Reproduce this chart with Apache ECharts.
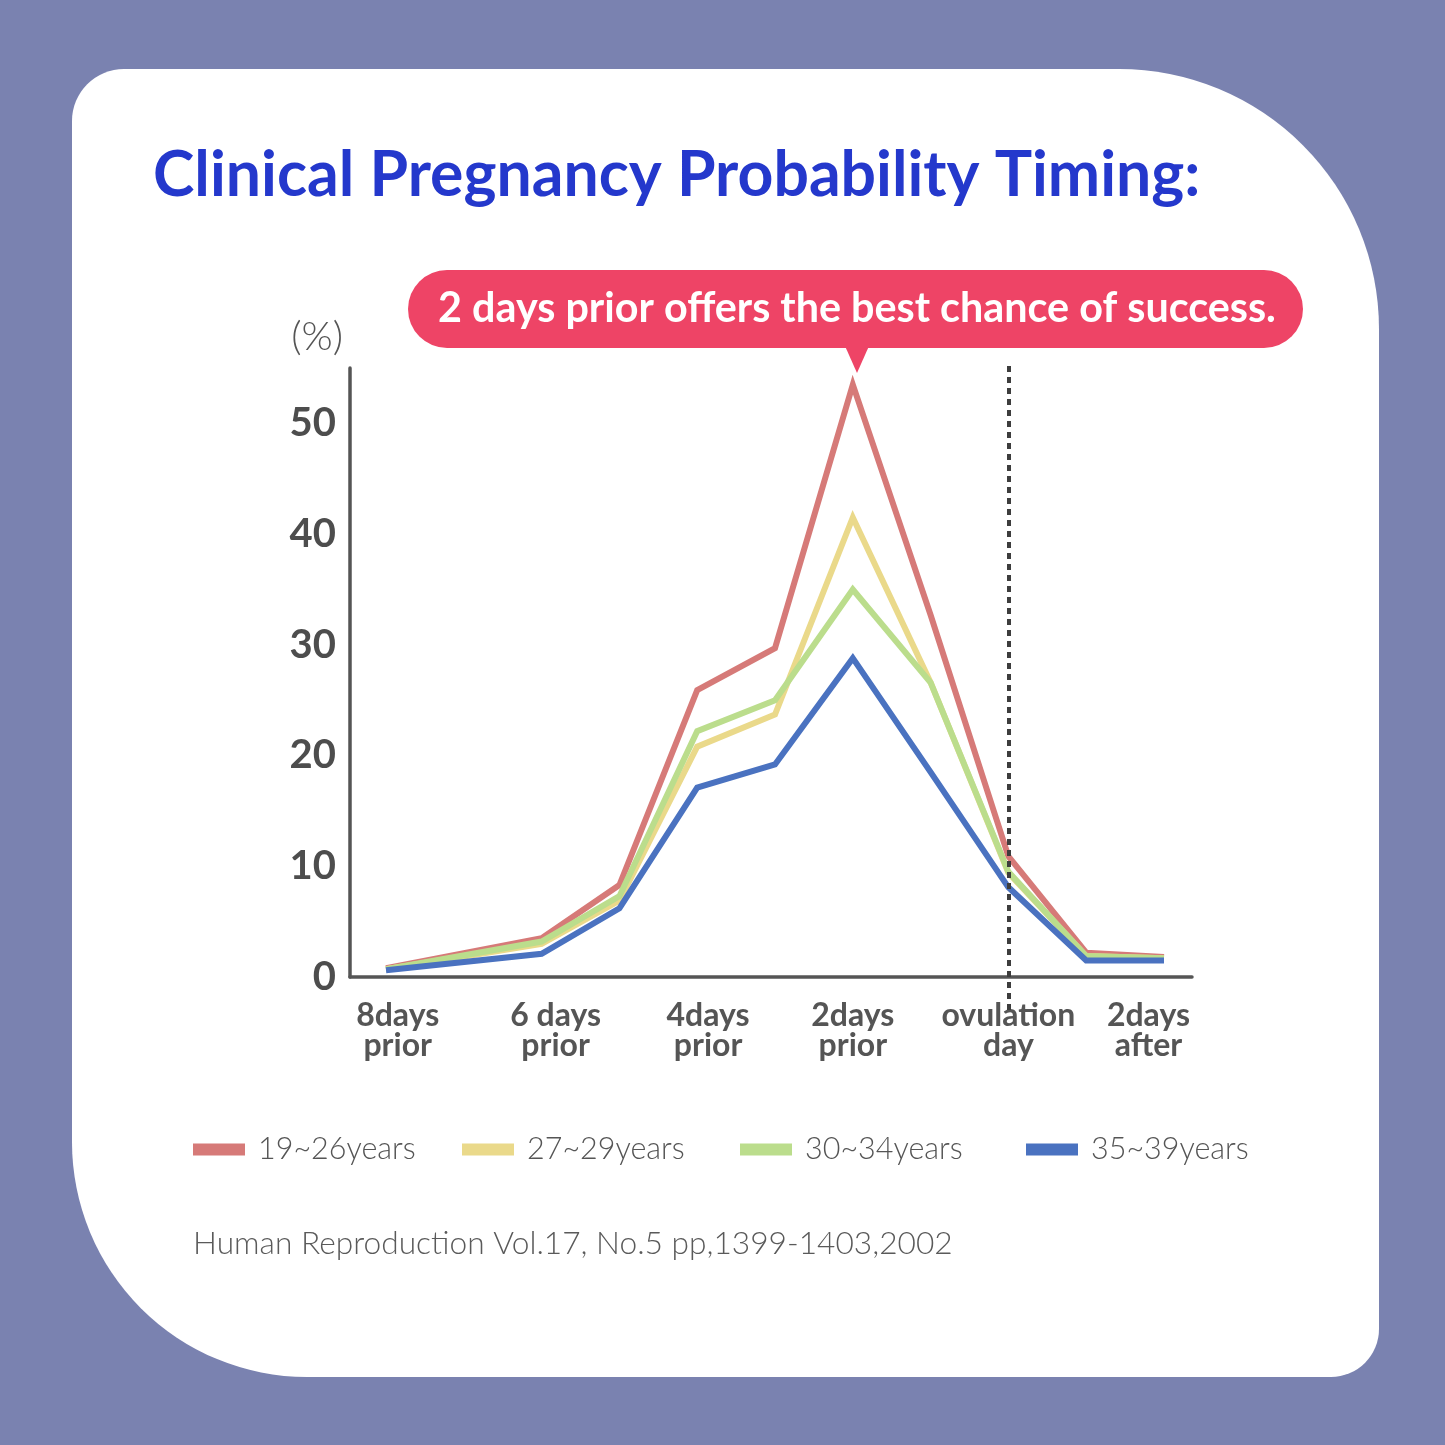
<!DOCTYPE html>
<html><head><meta charset="utf-8">
<script src="https://cdn.jsdelivr.net/npm/echarts@6/dist/echarts.min.js"></script>
<style>html,body{margin:0;padding:0;background:#7a82b0;}#c{width:1445px;height:1445px;}</style>
</head><body><div id="c"></div>
<script>
// ---- data ----
const days = [-8, -6, -5, -4, -3, -2, -1, 0, 1, 2];
const seriesNames = ['19~26years', '27~29years', '30~34years', '35~39years'];
const age19to26 = [0.8, 3.5, 8.3, 25.9, 29.7, 53.5, 32.7, 10.9, 2.2, 1.8];
const age27to29 = [0.7, 3.0, 6.9, 20.8, 23.7, 41.5, 26.6, 9.4, 1.9, 1.7];
const age30to34 = [0.7, 3.2, 7.3, 22.2, 25.0, 35.0, 26.6, 9.5, 1.9, 1.7];
const age35to39 = [0.6, 2.1, 6.2, 17.1, 19.2, 28.8, 18.5, 8.1, 1.5, 1.5];
const xTickLabels = ['8days\nprior', '6 days\nprior', '4days\nprior', '2days\nprior', 'ovulation\nday', '2days\nafter'];
const xTickAt = [-7.85, -5.82, -3.86, -2, 0, 1.8];
const yTicks = [0, 10, 20, 30, 40, 50];
const ovulationDay = 0;
const titleText = 'Clinical Pregnancy Probability Timing:';
const calloutText = '2 days prior offers the best chance of success.';
const sourceText = 'Human Reproduction Vol.17, No.5 pp,1399-1403,2002';

// ---- chart ----
const colors = ['#d67a78', '#ead98a', '#bbdd8c', '#4a72c0'];
const allSeries = [age19to26, age27to29, age30to34, age35to39];
const FONT = 'Lato';
const chart = echarts.init(document.getElementById('c'), null, {renderer: 'canvas'});

const lineSeries = allSeries.map((vals, i) => ({
  name: seriesNames[i],
  type: 'line',
  xAxisIndex: 0, yAxisIndex: 0,
  data: days.map((d, k) => [d, vals[k]]),
  symbol: 'none',
  lineStyle: {width: 6, color: colors[i], join: 'miter'},
  itemStyle: {color: colors[i]},
  animation: false
}));

const legendLeft = [188, 457, 735, 1021];

const option = {
  backgroundColor: '#7a82b0',
  animation: false,
  title: [
    {text: titleText, left: 148, top: 139,
     textStyle: {fontFamily: FONT, fontSize: 62.5, fontWeight: 'bold', color: '#2438cc'}},
    {text: sourceText, left: 188, top: 1223,
     textStyle: {fontFamily: FONT, fontSize: 31.7, fontWeight: 300, color: '#5a5a5a'}}
  ],
  legend: seriesNames.map((n, i) => ({
    data: [n], left: legendLeft[i], top: 1129, icon: 'rect',
    itemWidth: 52, itemHeight: 12, selectedMode: false,
    textStyle: {fontFamily: FONT, fontSize: 30.5, fontWeight: 300, color: '#555', padding: [0, 0, 0, 8]}
  })),
  grid: [
    {left: 350, top: 368, right: 253, bottom: 468},
    {left: 350, top: 366, right: 253, bottom: 435}
  ],
  xAxis: [
    {gridIndex: 0, type: 'value', min: -8.463, max: 2.36,
     axisLine: {show: true, onZero: false, lineStyle: {color: '#555', width: 3.5}},
     axisTick: {show: false}, splitLine: {show: false},
     axisLabel: {customValues: xTickAt, margin: 24,
       formatter: v => { const i = xTickAt.findIndex(t => Math.abs(t - v) < 1e-6); return i >= 0 ? xTickLabels[i] : ''; },
       fontFamily: FONT, fontSize: 32, fontWeight: 'bold', color: '#555', lineHeight: 30}},
    {gridIndex: 1, type: 'value', min: -8.463, max: 2.36, show: false}
  ],
  yAxis: [
    {gridIndex: 0, type: 'value', min: 0, max: 55, interval: 10,
     name: '(%)', nameLocation: 'end', nameGap: 31,
     nameTextStyle: {fontFamily: FONT, fontSize: 40, fontWeight: 300, color: '#555', align: 'right', verticalAlign: 'middle', padding: [0, 7, 0, 0]},
     axisLine: {show: true, onZero: false, lineStyle: {color: '#555', width: 3.5}},
     axisTick: {show: false}, splitLine: {show: false},
     axisLabel: {margin: 14, fontFamily: FONT, fontSize: 40, fontWeight: 'bold', color: '#4d4d4d',
       formatter: v => yTicks.indexOf(v) >= 0 ? String(v) : ''}},
    {gridIndex: 1, type: 'value', min: 0, max: 1, show: false}
  ],
  series: lineSeries.concat([{
    name: 'ovulation', type: 'line', xAxisIndex: 1, yAxisIndex: 1, data: [],
    markLine: {symbol: 'none', silent: true, label: {show: false},
      lineStyle: {type: [6, 5], color: '#3d3d3d', width: 4},
      data: [{xAxis: ovulationDay}]}
  }]),
  graphic: [
    {type: 'rect', z: -10, shape: {x: 72, y: 69, width: 1307, height: 1308, r: [52, 260, 48, 235]},
     style: {fill: '#ffffff'}},
    {type: 'group', z: 100, children: [
      {type: 'rect', shape: {x: 408, y: 270, width: 895, height: 78, r: 39}, style: {fill: '#ee4466'}},
      {type: 'polygon', shape: {points: [[845, 346], [869, 346], [857, 373]]}, style: {fill: '#ee4466'}},
      {type: 'text', x: 857, y: 309, style: {text: calloutText, fill: '#fff', fontFamily: FONT, fontSize: 41.3, fontWeight: 'bold', align: 'center', verticalAlign: 'middle'}}
    ]}
  ]
};
chart.setOption(option);
</script></body></html>
